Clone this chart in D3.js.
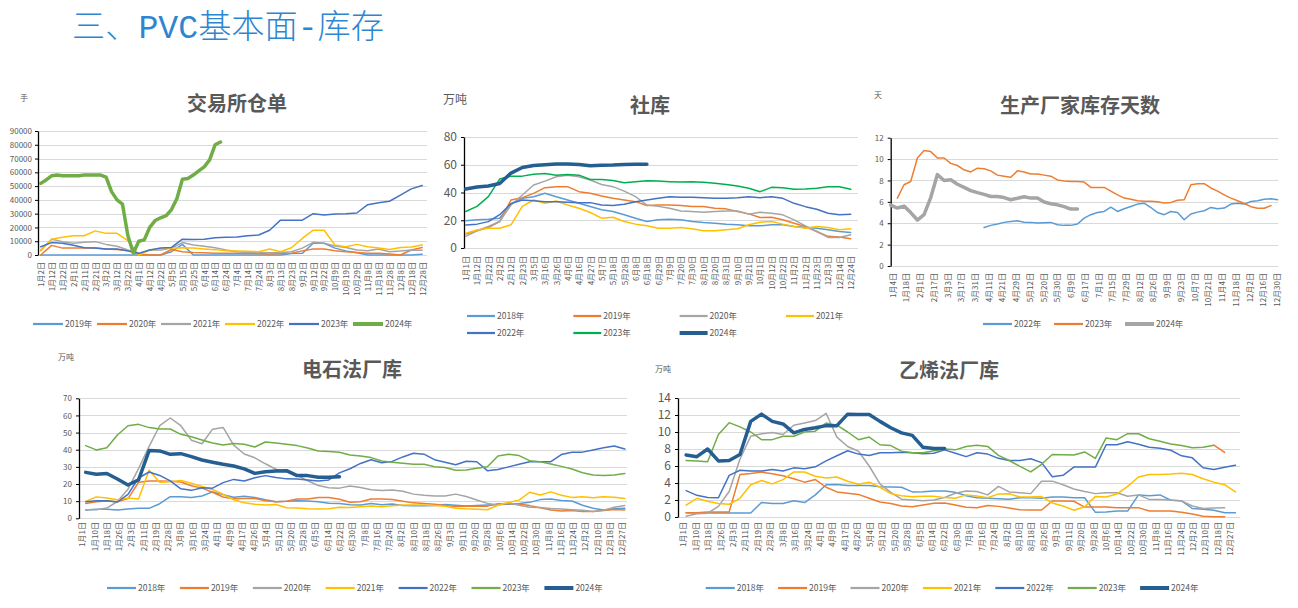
<!DOCTYPE html>
<html><head><meta charset="utf-8">
<script src="https://cdn.jsdelivr.net/npm/d3@7"></script>
<style>
body{margin:0;background:#fff;}
svg{display:block;}
</style>
</head><body>
<svg id="c" width="1298" height="608"></svg>
<script>
// ================= DATA =================
const pageTitle = "三、PVC基本面-库存";

// Chart 1: 交易所仓单 (手)
const c1Labels = ["1月2日","1月12日","1月22日","2月1日","2月11日","2月21日","3月2日","3月12日","3月22日","4月1日","4月12日","4月22日","5月5日","5月15日","5月25日","6月4日","6月14日","6月24日","7月4日","7月14日","7月24日","8月3日","8月13日","8月23日","9月2日","9月12日","9月22日","10月9日","10月19日","10月29日","11月8日","11月18日","11月28日","12月8日","12月18日","12月28日"];
const c1Names = ["2019年","2020年","2021年","2022年","2023年","2024年"];
const c1_2019 = [0,0,0,0,0,0,0,0,0,0,0,0,2400,7700,0,0,0,0,0,0,0,0,0,1000,1200,8500,8500,5000,3000,1700,0,0,0,0,0,500];
const c1_2020 = [0,7000,5000,5000,5000,5000,4400,4000,3000,500,0,0,4000,2400,1900,1700,1200,1200,1200,1000,1000,800,1000,1200,3000,4400,4400,3100,2400,1900,1200,1200,700,0,3600,5500];
const c1_2021 = [3600,11500,9700,8500,9200,9700,7700,6300,3600,1200,3600,3600,5000,9000,7200,6300,5300,3600,2400,1900,1900,1700,1900,2400,5000,9200,8500,6500,5500,3600,3100,4400,2400,2900,3600,3400];
const c1_2022 = [3000,11500,12800,14000,14000,17500,15700,15700,10500,0,3600,4400,5000,5300,5000,4400,3900,3100,2900,2700,2400,4400,2400,5300,12000,18000,18000,7200,6000,7700,6000,5000,4000,5500,5800,7200];
const c1_2023 = [6000,9000,8500,7000,5300,5000,4400,4400,3000,1200,3600,5000,5500,11500,11300,11500,12500,12800,13000,14000,14500,18000,25300,25300,25300,30000,29000,29700,30000,30500,36500,38000,39000,43500,48000,50500];
// half-label resolution
const c1_2024 = [52000,54500,57500,58000,57500,57500,57500,57500,58000,58000,58000,58000,56500,46000,40000,37000,14000,1500,10000,11000,20000,25000,27000,28500,33000,41000,55000,55500,58000,61000,64000,69000,80000,82000];

// Chart 2: 社库 (万吨)
const c2Labels = ["1月1日","1月12日","1月22日","2月2日","2月12日","2月23日","3月5日","3月16日","3月26日","4月6日","4月16日","4月27日","5月7日","5月18日","5月28日","6月8日","6月18日","6月29日","7月9日","7月20日","7月30日","8月10日","8月20日","8月31日","9月10日","9月21日","10月1日","10月12日","10月22日","11月2日","11月12日","11月23日","12月3日","12月14日","12月24日"];
const c2Names = ["2018年","2019年","2020年","2021年","2022年","2023年","2024年"];
const c2_2018 = [19.6,20.3,20.8,21.5,32,35.8,37,39.4,37,34.6,32.2,29.9,27.5,26.3,23.9,21.5,19.1,20.3,20.8,20.3,19.1,18.4,17.9,17.2,16.7,16,16,16.7,16.7,15.5,15,14.3,13.1,11.9,11.2];
const c2_2019 = [10,12.4,14.8,19.1,34.6,36.3,39.4,43.5,44.2,44.2,40.6,39.4,37.5,35.8,34.6,33.4,30.6,31,31,30.6,29.9,29.9,28.7,28.2,26.3,24.6,22,22.2,20.3,17.9,15.5,11.9,8.4,7.9,6.7];
const c2_2020 = [8.4,12.4,15.5,19.1,31,38.2,45.4,48.2,51.3,52.5,51.3,49,45.8,44.2,41,37,31,30,28.7,26.7,26.3,25.8,26.3,26.7,26.7,24.4,25.8,25,23.9,20.3,16,11.9,7.6,7.6,9.6];
const c2_2021 = [10.7,13,14.3,14.3,16.7,30,34.6,32.2,33.9,31,28.7,25.6,21.5,22.2,19.1,17.2,16,14.3,14.3,14.8,13.9,12.4,12.4,13.1,13.9,16.7,18.6,19.1,17.2,15.5,14.3,15.5,14.8,13.1,13.9];
const c2_2022 = [16.5,17.2,19,24,32,34.6,34,33.4,33.4,33,32.7,32.7,31,30.6,31.5,33.4,34.6,35.8,37,36.5,36.5,36.3,35.8,35.8,36.3,37,36.3,37,35.8,32.2,29.8,27.9,25,23.9,24.4];
const c2_2023 = [26.3,30,37,49.7,51.8,51.8,53.2,53.7,52.5,53,52.5,49.4,49.4,48.7,47,47.8,48.5,48.2,47.8,47.5,47.8,47.3,46.6,45.8,44.7,43,40.6,43.7,43.5,42.3,42.5,43,44.2,44.2,42.3];
const c2_2024 = [42.5,44,44.7,46.5,54,58,59.5,60,60.5,60.5,60.2,59.3,59.7,59.8,60.2,60.4,60.3];

// Chart 3: 生产厂家库存天数 (天), weekly
const c3Labels = ["1月4日","1月18日","2月1日","2月17日","3月3日","3月17日","3月31日","4月11日","4月21日","4月29日","5月12日","5月20日","5月30日","6月9日","6月17日","7月1日","7月15日","7月29日","8月12日","8月26日","9月9日","9月23日","10月7日","10月21日","11月4日","11月18日","12月2日","12月16日","12月30日"];
const c3Names = ["2022年","2023年","2024年"];
const c3_2022 = [3.6,3.8,3.93,4.08,4.17,4.23,4.1,4.08,4.02,4.05,4.08,3.86,3.8,3.8,3.93,4.48,4.8,5.0,5.1,5.5,5.1,5.35,5.57,5.79,5.88,5.47,5.0,4.8,5.1,5.0,4.33,4.86,5.04,5.17,5.48,5.35,5.42,5.79,5.88,5.79,6.03,6.1,6.25,6.28,6.2];
const c3_2023 = [6.35,7.6,7.9,10.1,10.8,10.7,10.1,10.1,9.6,9.4,9.0,8.8,9.15,9.1,8.9,8.5,8.4,8.3,8.9,8.8,8.6,8.6,8.5,8.4,8.05,7.95,7.9,7.9,7.85,7.35,7.35,7.35,7.0,6.65,6.35,6.25,6.1,6.05,6.05,6.0,5.9,5.95,6.15,6.2,7.6,7.7,7.7,7.3,7.0,6.65,6.35,6.1,5.85,5.55,5.4,5.4,5.65];
const c3_2024 = [5.7,5.42,5.6,5.0,4.3,4.8,6.4,8.55,8.0,8.06,7.65,7.35,7.05,6.86,6.7,6.5,6.5,6.4,6.2,6.33,6.48,6.35,6.35,5.98,5.82,5.72,5.55,5.32,5.32];

// Chart 4 & 5 share the category labels
const weekLabels = ["1月1日","1月10日","1月18日","1月26日","2月3日","2月11日","2月19日","2月28日","3月8日","3月16日","3月24日","4月1日","4月9日","4月17日","4月26日","5月4日","5月12日","5月20日","5月28日","6月5日","6月14日","6月22日","6月30日","7月8日","7月16日","7月24日","8月2日","8月10日","8月18日","8月26日","9月3日","9月11日","9月20日","9月28日","10月6日","10月14日","10月22日","10月30日","11月8日","11月16日","11月24日","12月2日","12月10日","12月18日","12月27日"];
const yearNames = ["2018年","2019年","2020年","2021年","2022年","2023年","2024年"];

// Chart 4: 电石法厂库 (万吨)
const c4_2018 = [4.9,5.3,5.3,4.9,5.4,5.8,5.8,8.5,12.6,12.6,12.2,13.0,15.4,13.8,12.3,12.8,12.2,10.8,9.7,9.9,10.3,10.1,9.6,8.8,8.6,7.9,7.8,8.7,7.9,8.3,7.4,7.3,7.3,7.4,8.1,7.6,7.2,7.5,7.8,8.1,8.2,8.6,9.3,10.9,11.2,10.4,10.1,7.6,5.9,4.9,5.5,5.8];
const c4_2019 = [8.7,9.7,10.1,9.7,11.5,21,21.8,21.8,21.6,21.2,19,17.6,15.2,12.4,11.4,11.6,11.6,10.3,9.7,9.9,11.2,11.3,12.1,12.1,11.1,9.4,9.7,11.3,11.3,11,10,9,8.6,8.2,7.5,6.9,7.2,7.0,7.1,8.5,8.7,8.4,7.4,6.2,4.9,4.3,4.5,3.9,3.9,4.6,5.2,4.9];
const c4_2020 = [5.0,5.0,6.0,9.8,17,29,42,54,58.5,54,45.5,43.5,52,53,42.7,37.5,35.3,31.8,28.6,27.2,25,21.9,19.1,17.8,17.6,18.8,18,16.7,16.2,16.5,15.8,14.1,13.4,13,13,14.1,12.7,10.7,8.7,7.8,9.0,7.6,6.4,6.3,5.7,5.4,5.0,4.7,4.0,4.7,6.4,7.4];
const c4_2021 = [9.9,12.5,11.8,10.8,11.8,11.2,28,21,21.3,22.1,20.5,18.6,16.8,14,10.8,9.1,8.2,7.8,8.0,6.2,6.0,5.6,5.4,5.6,6.5,6.3,6.8,7.2,6.8,7.3,7.7,7.8,7.8,7.5,7.0,5.9,5.5,5.3,5.0,7.6,9.2,10.6,15.2,13.6,15.4,13.4,12.2,12.5,12.0,12.6,12.3,11.5];
const c4_2022 = [9.7,10.3,10.3,9.5,14,23.5,27,25,21.8,17.2,16.3,17.8,17.6,20.8,22.7,21.8,23.7,24.9,23.8,23,22.9,22.3,21.8,22.4,26.5,28.9,32,34.2,32.4,33.2,35.8,37.9,37.4,34.2,32.7,31.2,33.3,33,27.8,28.5,30,31.5,33,33,33,37.2,38.5,38.6,39.9,41.1,42.2,40.4];
const c4_2023 = [42.4,39.9,41.2,48.6,54,54.8,52.9,52.1,52.1,49,47.6,45.7,43.9,42.8,43.7,43.2,41.6,44.5,43.9,43.2,42.4,41,39.3,38.9,38.5,36.9,36.4,35.4,33.4,32.7,32.1,31.5,31.5,30.1,29.6,28,28.2,29.2,30.1,36.4,37.3,36.6,33.6,33,31.7,30.3,28.8,26.6,25.3,24.9,25.3,26.2];
const c4_2024 = [26.8,25.7,26.1,22.9,19.4,22.4,39.5,39.3,37.3,37.7,36,34,32.7,31.5,30.5,28.8,26.2,27.2,27.6,27.8,24.9,24.9,23.9,23.9,24.3];

// Chart 5: 乙烯法厂库 (万吨)
const c5_2018 = [0.5,0.47,0.47,0.47,0.47,0.47,0.47,1.7,1.6,1.6,1.9,1.7,2.6,3.8,3.83,3.7,3.7,3.7,3.56,3.52,3.5,2.95,2.97,3.05,3.05,2.9,2.5,2.27,2.2,2.15,2.1,2.27,2.25,2.2,2.35,2.35,2.27,2.27,0.55,0.6,0.7,0.7,2.6,2.5,2.6,1.97,1.9,1.0,0.9,0.8,0.5,0.5];
const c5_2019 = [0.5,0.5,0.6,0.6,0.6,5.0,5.12,5.28,5.1,4.85,4.5,4.1,4.4,3.5,2.95,2.8,2.66,2.2,1.76,1.6,1.3,1.2,1.4,1.62,1.65,1.4,1.15,1.1,1.35,1.25,1.05,0.85,0.82,0.82,1.88,1.88,1.85,1.17,1.17,1.17,1.1,1.1,1.1,0.7,0.7,0.7,0.55,0.35,0.1,0.04,0.04];
const c5_2020 = [0.1,0.38,0.45,1.25,3.0,6.8,9.5,9.8,9.95,9.7,10.8,11.07,11.35,12.2,9.4,8.3,7.74,6.0,3.9,2.9,2.1,2.0,1.9,2.0,2.3,2.8,3.05,2.99,2.6,3.6,2.95,2.85,2.75,4.2,4.22,3.8,3.3,3.0,2.75,2.85,2.85,2.45,2.6,2.07,2.07,2.0,1.88,1.3,1.0,1.05,1.1];
const c5_2021 = [1.4,2.2,1.85,1.6,1.5,2.2,3.8,4.3,3.9,4.4,5.3,5.3,4.8,4.6,4.7,4.2,3.85,4.1,3.5,2.75,2.5,2.37,2.45,2.45,2.28,2.2,2.6,2.46,2.27,2.72,2.74,2.35,2.35,2.4,1.65,1.3,0.8,1.2,2.4,2.35,2.7,3.6,4.7,5.0,5.0,5.05,5.15,5.0,4.5,4.1,3.8,2.95];
const c5_2022 = [3.1,2.55,2.3,2.27,4.9,5.5,5.4,5.4,5.58,5.42,5.78,5.67,5.9,6.6,7.2,7.8,7.4,7.23,7.55,7.55,7.62,7.55,7.43,7.5,7.9,7.5,7.1,7.55,7.4,6.9,6.65,6.65,6.85,6.4,4.73,4.9,5.87,5.87,5.87,8.5,8.5,8.85,8.55,8.2,8.1,7.85,7.2,6.96,5.8,5.6,5.85,6.1];
const c5_2023 = [6.65,6.6,6.5,9.7,11.1,10.6,10.0,9.1,9.1,9.5,9.5,10.0,10.1,11.05,10.8,10.0,9.1,9.4,8.5,8.4,7.75,7.55,7.55,7.8,8.0,7.9,8.3,8.45,8.3,7.25,6.65,5.95,5.3,6.2,7.35,7.33,7.3,7.65,6.9,9.3,9.1,9.8,9.8,9.2,8.9,8.6,8.4,8.15,8.2,8.45,7.6];
const c5_2024 = [7.3,7.1,8.0,6.6,6.65,7.35,11.25,12.1,11.25,10.95,9.9,10.3,10.5,10.75,10.75,12.1,12.05,12.05,11.25,10.5,9.9,9.6,8.2,8.05,8.05];

// ================= DRAWING =================
const FONT = '"Noto Sans CJK SC","Noto Sans",sans-serif';
const TXT = "#595959";
const C = {lb:"#5B9BD5", or:"#ED7D31", gr:"#A5A5A5", ye:"#FFC000", bl:"#4472C4", gn:"#70AD47", gn2:"#00B050", db:"#255E91"};
const svg = d3.select("#c");

svg.append("text").attr("x",72).attr("y",38)
  .attr("font-family",'"Liberation Mono","Noto Sans CJK SC",monospace').attr("font-size",33)
  .attr("font-weight",300).attr("fill","#2E86D0").attr("textLength",312).attr("lengthAdjust","spacingAndGlyphs")
  .text(pageTitle);

function drawChart(o){
  const g = svg.append("g");
  const y = d3.scaleLinear().domain([0,o.yMax]).range([o.y0,o.y1]);
  const x = d3.scaleLinear().domain(o.xDomain).range(o.xRange);
  const xl = d3.scalePoint().domain(o.labels).range(o.labelRange);
  const ticks = d3.range(0, o.yMax + o.yStep/2, o.yStep);

  g.append("g").selectAll("line").data(ticks).join("line")
    .attr("x1",o.axisX).attr("x2",o.gridRight)
    .attr("y1",d=>Math.round(y(d))+0.5).attr("y2",d=>Math.round(y(d))+0.5)
    .attr("stroke","#D9D9D9").attr("stroke-width",1);

  const ya = g.append("g").attr("transform",`translate(${o.axisX},0)`)
    .call(d3.axisLeft(y).tickValues(ticks).tickSize(3).tickSizeOuter(0).tickPadding(o.yPad).tickFormat(d=>d));
  ya.select(".domain").attr("stroke","#000").attr("stroke-width",1.3);
  ya.selectAll(".tick line").attr("stroke","#000");
  ya.selectAll("text").attr("fill",TXT).attr("font-size",o.yFont).attr("font-family",FONT);

  const xa = g.append("g").attr("transform",`translate(0,${o.y0})`)
    .call(d3.axisBottom(xl).tickSize(0).tickPadding(0));
  xa.select(".domain").remove();
  xa.selectAll("text").attr("x",0).attr("y",0).attr("dy","0.35em")
    .attr("transform",`translate(0,${o.xLabTop-o.y0}) rotate(-90)`)
    .attr("text-anchor","end").attr("fill",TXT).attr("font-size",8).attr("font-family",FONT);

  const line = d3.line().defined(d=>d[1]!=null).x(d=>x(d[0])).y(d=>y(d[1]));
  o.series.forEach(s=>{
    const pts = s.values.map((v,i)=>[(s.start||0)+i*(s.step||1), v]);
    const main = s.tail ? pts.slice(0,-1) : pts;
    g.append("path").datum(main).attr("d",line).attr("fill","none")
      .attr("stroke",s.color).attr("stroke-width",s.width||1.5)
      .attr("stroke-linejoin","round").attr("stroke-linecap","round");
    if(s.tail){
      g.append("path").datum(pts.slice(-2)).attr("d",line).attr("fill","none")
        .attr("stroke",s.tail).attr("stroke-width",s.width||1.5).attr("stroke-linecap","round");
    }
  });

  g.append("text").attr("x",o.titleX).attr("y",o.titleY).attr("text-anchor","middle")
    .attr("font-family",FONT).attr("font-size",20).attr("font-weight","bold").attr("fill",TXT).text(o.title);
  g.append("text").attr("x",o.unitX).attr("y",o.unitY).attr("font-family",FONT)
    .attr("font-size",o.unitFont).attr("fill",TXT).text(o.unit);

  o.legendItems.forEach((it,j)=>{
    const col = j % o.legCols, row = Math.floor(j / o.legCols);
    const lx = o.legX0 + col*o.legDX, ly = o.legY0 + row*o.legDY;
    g.append("line").attr("x1",lx).attr("x2",lx+o.legLen).attr("y1",ly).attr("y2",ly)
      .attr("stroke",it.color).attr("stroke-width",it.width>2?4:2.2);
    g.append("text").attr("x",lx+o.legLen+2).attr("y",ly).attr("dy","0.35em")
      .attr("font-family",FONT).attr("font-size",8.5).attr("fill",TXT).text(it.name);
  });
}

function legendOf(series, names){
  return names.map(n=>{ const s = series.find(q=>q.name===n); return {name:n,color:s.color,width:s.width||1.5}; });
}

// Chart 1
const s1 = [
  {name:"2019年",values:c1_2019,color:C.lb},
  {name:"2020年",values:c1_2020,color:C.or},
  {name:"2021年",values:c1_2021,color:C.gr},
  {name:"2022年",values:c1_2022,color:C.ye},
  {name:"2023年",values:c1_2023,color:C.bl},
  {name:"2024年",values:c1_2024,color:C.gn,width:3.5,step:0.5}
];
drawChart({title:"交易所仓单",titleX:237,titleY:111,unit:"手",unitX:20,unitY:101,unitFont:8,
  yMax:90000,yStep:10000,y0:255,y1:131,axisX:38,gridRight:427,yPad:3,yFont:8,
  xDomain:[0,35],xRange:[40.7,422.2],labels:c1Labels,labelRange:[40.7,422.2],xLabTop:262,
  series:s1,legendItems:legendOf(s1,c1Names),legCols:6,legX0:33,legDX:64,legY0:324,legDY:0,legLen:30});

// Chart 2
const s2 = [
  {name:"2018年",values:c2_2018,color:C.lb},
  {name:"2019年",values:c2_2019,color:C.or},
  {name:"2020年",values:c2_2020,color:C.gr},
  {name:"2021年",values:c2_2021,color:C.ye},
  {name:"2022年",values:c2_2022,color:C.bl},
  {name:"2023年",values:c2_2023,color:C.gn2},
  {name:"2024年",values:c2_2024,color:C.db,width:3.5}
];
drawChart({title:"社库",titleX:650,titleY:113,unit:"万吨",unitX:443,unitY:104,unitFont:12,
  yMax:80,yStep:20,y0:248,y1:137,axisX:464,gridRight:858,yPad:4,yFont:12,
  xDomain:[0,34],xRange:[465.7,850.7],labels:c2Labels,labelRange:[465.7,850.7],xLabTop:256,
  series:s2,legendItems:legendOf(s2,c2Names),legCols:4,legX0:467,legDX:106.3,legY0:316,legDY:17,legLen:28});

// Chart 3
const s3 = [
  {name:"2022年",values:c3_2022,color:C.lb,start:14},
  {name:"2023年",values:c3_2023,color:C.or,start:1},
  {name:"2024年",values:c3_2024,color:C.gr,width:3.5}
];
drawChart({title:"生产厂家库存天数",titleX:1080,titleY:113,unit:"天",unitX:874,unitY:98,unitFont:8,
  yMax:12,yStep:2,y0:266,y1:137.7,axisX:890.7,gridRight:1278,yPad:4,yFont:8,
  xDomain:[0,58],xRange:[890.7,1277.6],labels:c3Labels,labelRange:[892.3,1276.7],xLabTop:273,
  series:s3,legendItems:legendOf(s3,c3Names),legCols:3,legX0:983,legDX:71,legY0:324,legDY:0,legLen:29});

// Chart 4
const s4 = [
  {name:"2018年",values:c4_2018,color:C.lb},
  {name:"2019年",values:c4_2019,color:C.or},
  {name:"2020年",values:c4_2020,color:C.gr},
  {name:"2021年",values:c4_2021,color:C.ye},
  {name:"2022年",values:c4_2022,color:C.bl},
  {name:"2023年",values:c4_2023,color:C.gn},
  {name:"2024年",values:c4_2024,color:C.db,width:3.5}
];
drawChart({title:"电石法厂库",titleX:352,titleY:377,unit:"万吨",unitX:58,unitY:360,unitFont:8,
  yMax:70,yStep:10,y0:518.3,y1:398.3,axisX:79,gridRight:627,yPad:4,yFont:8,
  xDomain:[0,51],xRange:[85.7,624.8],labels:weekLabels,labelRange:[82,622],xLabTop:522,
  series:s4,legendItems:legendOf(s4,yearNames),legCols:7,legX0:107,legDX:72.9,legY0:588,legDY:0,legLen:29});

// Chart 5
const s5 = [
  {name:"2018年",values:c5_2018,color:C.lb},
  {name:"2019年",values:c5_2019,color:C.or},
  {name:"2020年",values:c5_2020,color:C.gr},
  {name:"2021年",values:c5_2021,color:C.ye},
  {name:"2022年",values:c5_2022,color:C.bl},
  {name:"2023年",values:c5_2023,color:C.gn,tail:C.or},
  {name:"2024年",values:c5_2024,color:C.db,width:3.5}
];
drawChart({title:"乙烯法厂库",titleX:949,titleY:378,unit:"万吨",unitX:655,unitY:372,unitFont:8,
  yMax:14,yStep:2,y0:517,y1:398,axisX:678,gridRight:1240,yPad:4,yFont:12,
  xDomain:[0,51],xRange:[686.1,1235.4],labels:weekLabels,labelRange:[683,1230],xLabTop:522,
  series:s5,legendItems:legendOf(s5,yearNames),legCols:7,legX0:705.7,legDX:72.4,legY0:588,legDY:0,legLen:29});
</script>
</body></html>
